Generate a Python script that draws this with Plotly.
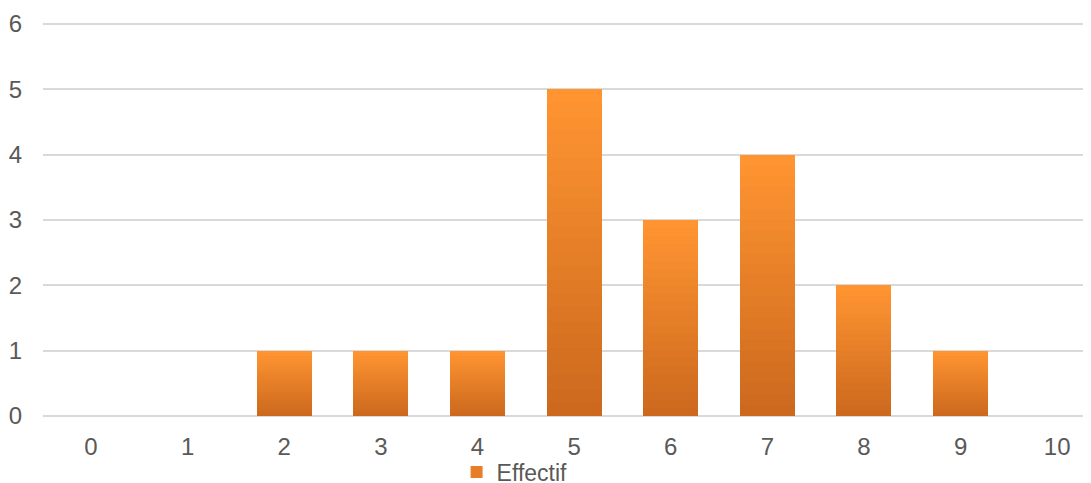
import plotly.graph_objects as go

categories = [0, 1, 2, 3, 4, 5, 6, 7, 8, 9, 10]
effectif = [0, 0, 1, 1, 1, 5, 3, 4, 2, 1, 0]
y_ticks = [0, 1, 2, 3, 4, 5, 6]
series_name = "Effectif"

# vertical gradient (bottom dark -> top light), built as stacked slices of each bar
n_slices = 24
c_bottom = (204, 105, 30)
c_top = (255, 148, 49)

fig = go.Figure()
for i in range(n_slices):
    t = i / (n_slices - 1)
    col = tuple(round(c_bottom[k] + (c_top[k] - c_bottom[k]) * t) for k in range(3))
    fig.add_trace(go.Bar(
        x=categories,
        y=[v / n_slices for v in effectif],
        name=series_name,
        width=0.57,
        marker=dict(color="rgb(%d,%d,%d)" % col, line=dict(width=0)),
        showlegend=(i == n_slices // 2),
        legendgroup="eff",
    ))

# body has a default 8px margin in the page, so compensate
fig.update_layout(
    barmode="stack",
    width=1083, height=487,
    margin=dict(l=35, r=0, t=14, b=79),
    paper_bgcolor="white", plot_bgcolor="white",
    font=dict(family="Liberation Sans, Arial, sans-serif", size=24, color="#595959"),
    showlegend=True,
    legend=dict(orientation="h", x=0.45, xanchor="center", y=-0.142, yanchor="middle",
                font=dict(size=23, color="#595959"), itemwidth=30,
                bgcolor="rgba(0,0,0,0)"),
    xaxis=dict(
        tickmode="array", tickvals=categories, ticktext=[str(c) for c in categories],
        range=[-0.497, 10.35], showgrid=False, zeroline=False, showline=False,
        ticks="", ticklabelstandoff=14,
    ),
    yaxis=dict(
        tickmode="array", tickvals=y_ticks, range=[0, 6.03],
        showgrid=True, gridcolor="#D9D9D9", gridwidth=1.5,
        zeroline=True, zerolinecolor="#D9D9D9", zerolinewidth=1.5,
        showline=False, ticks="", ticklabelstandoff=20,
    ),
    bargap=0,
)

fig.write_html("out.html")
